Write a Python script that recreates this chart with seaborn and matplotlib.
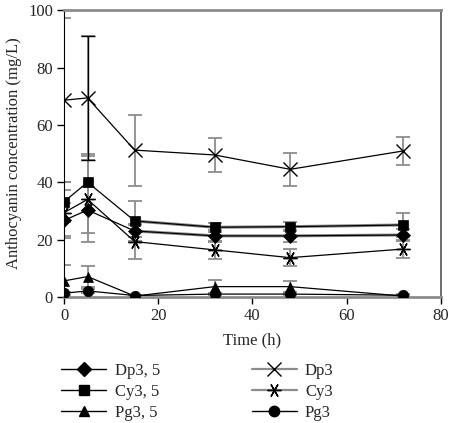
import numpy as np
import pandas as pd
import matplotlib
matplotlib.use("Agg")
import matplotlib.pyplot as plt
from matplotlib.lines import Line2D
import seaborn as sns

sns.set_style("white")
plt.rcParams["font.family"] = ["Liberation Serif", "DejaVu Serif"]

# sampling times (h)
time_h = [0, 5, 15, 32, 48, 72]

# anthocyanin concentrations (mg/L) and error bars
dp35 = [26.7, 30.3, 23.0, 21.3, 21.3, 21.6]
dp35_err = [6.0, 8.0, 2.0, 2.0, 2.0, 2.0]
cy35 = [33.2, 40.0, 26.5, 24.3, 24.5, 25.1]
cy35_err = [7.0, 10.0, 7.0, 1.5, 1.5, 4.2]
pg35 = [5.6, 7.1, 0.3, 3.6, 3.6, 0.3]
pg35_err = [5.5, 3.8, 0.5, 2.3, 2.0, 0.3]
dp3 = [68.6, 69.4, 51.2, 49.5, 44.5, 50.9]
dp3_err = [28.5, 21.5, 12.4, 6.0, 5.8, 5.0]
cy3 = [29.4, 34.0, 19.3, 16.4, 13.7, 16.7]
cy3_err = [8.0, 15.0, 6.0, 3.0, 3.0, 3.0]
pg3 = [1.3, 2.1, 0.5, 1.0, 1.0, 0.6]
pg3_err = [0.5, 0.8, 0.3, 0.4, 0.4, 0.3]

series = [
    ("Dp3, 5", dp35, dp35_err, "D", "black"),
    ("Cy3, 5", cy35, cy35_err, "s", "black"),
    ("Pg3, 5", pg35, pg35_err, "^", "black"),
    ("Dp3", dp3, dp3_err, "x", "#8c8c8c"),
    ("Cy3", cy3, cy3_err, (6, 2, 90), "#8c8c8c"),
    ("Pg3", pg3, pg3_err, "o", "black"),
]

rows = []
for name, vals, errs, *_ in series:
    for t, v, e in zip(time_h, vals, errs):
        rows.append({"series": name, "time": t, "conc": v, "err": e})
df = pd.DataFrame(rows)

fig = plt.figure(figsize=(4.64, 4.23), dpi=100)
ax = fig.add_axes([0.138, 0.298, 0.812, 0.678])

gray = "#8c8c8c"
for name, vals, errs, mk, legcol in series:
    d = df[df["series"] == name]
    ax.errorbar(d["time"], d["conc"], yerr=d["err"], fmt="none",
                ecolor=gray, elinewidth=1.3, capsize=5, capthick=1.3, zorder=2)

# the big early Dp3 bar is drawn in black in the original
d = df[(df["series"] == "Dp3") & (df["time"] == 5)]
ax.errorbar(d["time"], d["conc"], yerr=d["err"], fmt="none",
            ecolor="black", elinewidth=1.0, capsize=5, capthick=1.0, zorder=2.2)

# thick gray segments seen under the late-time plateaus
for name in ["Dp3, 5", "Cy3, 5"]:
    d = df[(df["series"] == name) & (df["time"] >= 15)]
    sns.lineplot(data=d, x="time", y="conc", ax=ax, color=gray, lw=2.2,
                 zorder=2.5, legend=False)

for name, vals, errs, mk, legcol in series:
    d = df[df["series"] == name]
    thin = mk in ("x", (6, 2, 90))
    sns.lineplot(data=d, x="time", y="conc", ax=ax, color="black", lw=0.9,
                 marker=mk, markersize=10 if thin else 7.5,
                 markeredgewidth=1.0 if thin else 0.5,
                 markeredgecolor="black", markerfacecolor="black",
                 zorder=3, legend=False)

ax.set_xlim(0, 80)
ax.set_ylim(0, 100)
ax.set_xticks([0, 20, 40, 60, 80])
ax.set_yticks([0, 20, 40, 60, 80, 100])
ax.set_xlabel("Time (h)", fontsize=12, labelpad=6)
ax.set_ylabel("Anthocyanin concentration (mg/L)", fontsize=12, labelpad=4)
ax.tick_params(axis="both", labelsize=12, direction="out", length=5, width=1,
               color="black", left=True, bottom=True, pad=3)
ax.spines["left"].set_color("black")
ax.spines["bottom"].set_color(gray)
ax.spines["bottom"].set_linewidth(2)
ax.spines["top"].set_color(gray)
ax.spines["top"].set_linewidth(2)
ax.spines["right"].set_color("#555555")
ax.spines["right"].set_linewidth(1.2)
for sp in ax.spines.values():
    sp.set_visible(True)

handles = []
labels = []
for name, vals, errs, mk, legcol in series:
    thin = mk in ("x", (6, 2, 90))
    handles.append(Line2D([], [], color=legcol, lw=1.6 if legcol == gray else 1.0,
                          marker=mk, markersize=10 if thin else 7.5,
                          markerfacecolor="black", markeredgecolor="black"))
    labels.append(name)

fig.legend(handles, labels, ncol=2, loc="upper left", bbox_to_anchor=(0.118, 0.157),
           frameon=False, fontsize=12, handlelength=2.7, columnspacing=5.5,
           labelspacing=0.28, handletextpad=0.5, borderaxespad=0)

fig.savefig("out.png", dpi=100)
